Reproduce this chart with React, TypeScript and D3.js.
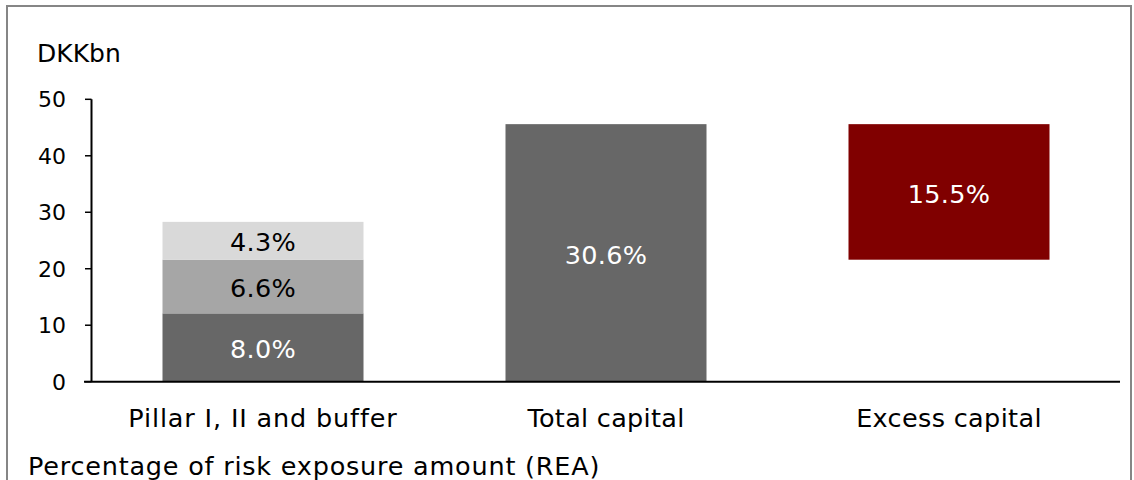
import React from "react";
import * as d3 from "d3";

const categories = ["Pillar I, II and buffer", "Total capital", "Excess capital"];
// segments: category, from, to, label
const segCategory = ["Pillar I, II and buffer", "Pillar I, II and buffer", "Pillar I, II and buffer", "Total capital", "Excess capital"];
const segFrom = [0, 12.1, 21.6, 0, 21.6];
const segTo = [12.1, 21.6, 28.3, 45.6, 45.6];
const segLabels = ["8.0%", "6.6%", "4.3%", "30.6%", "15.5%"];
const yTicks = [0, 10, 20, 30, 40, 50];
const yUnit = "DKKbn";
const footnote = "Percentage of risk exposure amount (REA)";

const segColors = ["#676767", "#a6a6a6", "#d9d9d9", "#676767", "#800000"];
const segLabelColors = ["#ffffff", "#000000", "#000000", "#ffffff", "#ffffff"];
const catLetterSpacing = [0.85, 0.3, 0.35];

const W = 1134;
const H = 480;
const FONT = "'DejaVu Sans', Verdana, sans-serif";

export default function App() {
  const x = d3
    .scaleBand<string>()
    .domain(categories)
    .range([91.5, 1120.5])
    .paddingInner(0.414)
    .paddingOuter(0.207);
  const y = d3.scaleLinear().domain([0, 50]).range([381.7, 99.3]);

  return (
    <svg
      width={W}
      height={H}
      style={{ position: "absolute", left: 0, top: 0, background: "#fff" }}
      fontFamily={FONT}
    >
      <rect x={0} y={0} width={W} height={H} fill="#fff" />
      <rect x={7} y={6} width={1124} height={H + 10} fill="none" stroke="#868686" strokeWidth={2} />
      <text x={37} y={62} fontSize={25} fill="#000">
        {yUnit}
      </text>

      {segFrom.map((f, i) => {
        const x0 = x(segCategory[i]) as number;
        const yt = y(segTo[i]);
        const yb = y(f);
        return (
          <g key={i}>
            <rect x={x0} y={yt} width={x.bandwidth()} height={yb - yt} fill={segColors[i]} />
            <text
              x={x0 + x.bandwidth() / 2}
              y={(yt + yb) / 2 + 1.5}
              dy="0.36em"
              textAnchor="middle"
              fontSize={25.5}
              letterSpacing={0.3}
              fill={segLabelColors[i]}
            >
              {segLabels[i]}
            </text>
          </g>
        );
      })}

      {/* y axis */}
      <line x1={91.5} x2={91.5} y1={y(50)} y2={y(0)} stroke="#000" strokeWidth={2} />
      {yTicks.map((t) => (
        <g key={t}>
          <line x1={85} x2={91.5} y1={y(t)} y2={y(t)} stroke="#000" strokeWidth={1.5} />
          <text x={66} y={y(t)} dy="0.36em" textAnchor="end" fontSize={22} fill="#000">
            {t}
          </text>
        </g>
      ))}
      {/* x axis */}
      <line x1={84} x2={1120} y1={y(0)} y2={y(0)} stroke="#000" strokeWidth={2} />
      {categories.map((c, i) => (
        <text
          key={c}
          x={(x(c) as number) + x.bandwidth() / 2}
          y={427}
          textAnchor="middle"
          fontSize={25.5}
          letterSpacing={catLetterSpacing[i]}
          fill="#000"
        >
          {c}
        </text>
      ))}
      <text x={28} y={475} fontSize={25.5} letterSpacing={0.78} fill="#000">
        {footnote}
      </text>
    </svg>
  );
}
